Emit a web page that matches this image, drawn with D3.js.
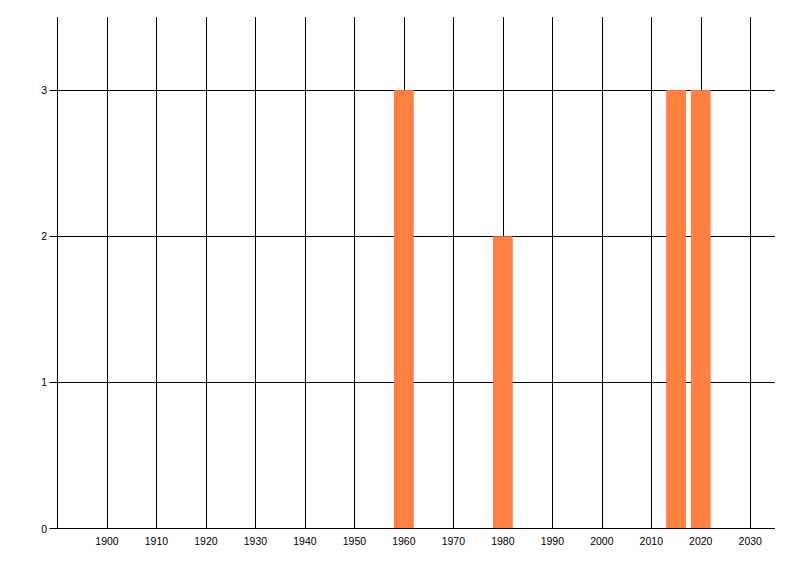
<!DOCTYPE html>
<html><head><meta charset="utf-8">
<script src="https://cdn.jsdelivr.net/npm/d3@7"></script>
<style>body{margin:0;background:#fff}svg{display:block}</style>
</head><body>
<svg id="c" width="800" height="576"></svg>
<script>
const years = [1960, 1980, 2015, 2020];
const counts = [3, 2, 3, 3];
const xTicks = [1900, 1910, 1920, 1930, 1940, 1950, 1960, 1970, 1980, 1990, 2000, 2010, 2020, 2030];
const yTicks = [0, 1, 2, 3];
const xDomain = [1890, 2035];
const yDomain = [0, 3.5];
const barYears = 4;

(function () {
const svg = d3.select("#c");
const mLeft = 57.5, mRight = 775, mTop = 17, mBottom = 528.5;
const x = d3.scaleLinear().domain(xDomain).range([mLeft, mRight]);
const y = d3.scaleLinear().domain(yDomain).range([mBottom, mTop]);
const font = "'Liberation Sans', Arial, sans-serif";

// vertical grid
svg.append("g").selectAll("line").data(xTicks).join("line")
  .attr("x1", d => Math.round(x(d)) + 0.5).attr("x2", d => Math.round(x(d)) + 0.5)
  .attr("y1", mTop).attr("y2", mBottom)
  .attr("stroke", "#000").attr("stroke-width", 1);
// horizontal grid
svg.append("g").selectAll("line").data(yTicks.filter(d => d > 0)).join("line")
  .attr("x1", mLeft - 8).attr("x2", mRight)
  .attr("y1", d => Math.round(y(d)) + 0.5).attr("y2", d => Math.round(y(d)) + 0.5)
  .attr("stroke", "#000").attr("stroke-width", 1);

// bars
svg.append("g").selectAll("rect").data(years.map((yr, i) => ({yr, c: counts[i]}))).join("rect")
  .attr("x", d => x(d.yr - barYears / 2))
  .attr("width", d => x(d.yr + barYears / 2) - x(d.yr - barYears / 2))
  .attr("y", d => y(d.c))
  .attr("height", d => y(0) - y(d.c))
  .attr("fill", "#ff8040");

// axes lines
svg.append("line").attr("x1", mLeft).attr("x2", mLeft).attr("y1", mTop).attr("y2", mBottom).attr("stroke", "#000");
svg.append("line").attr("x1", mLeft - 8).attr("x2", mRight).attr("y1", mBottom).attr("y2", mBottom).attr("stroke", "#000");

// labels
svg.append("g").selectAll("text").data(xTicks).join("text")
  .attr("x", d => x(d)).attr("y", 545)
  .attr("text-anchor", "middle")
  .attr("font-family", font).attr("font-size", "10.5px").attr("fill", "#000")
  .text(d => d);
svg.append("g").selectAll("text").data(yTicks).join("text")
  .attr("x", 47).attr("y", d => y(d) + 4)
  .attr("text-anchor", "end")
  .attr("font-family", font).attr("font-size", "10.5px").attr("fill", "#000")
  .text(d => d);
})();
</script>
</body></html>
